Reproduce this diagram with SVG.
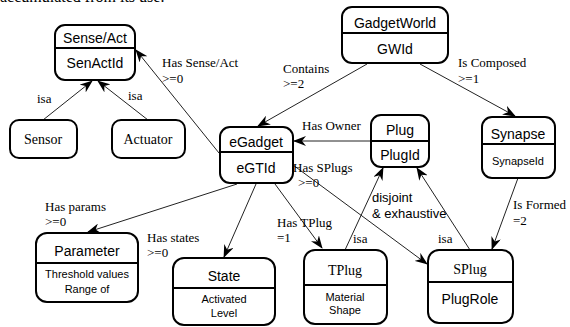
<svg xmlns="http://www.w3.org/2000/svg" width="570" height="327" viewBox="0 0 570 327">
<style>
.box{fill:#fff;stroke:#000;stroke-width:2}
.div{stroke:#000;stroke-width:2}
.t{font-family:"Liberation Sans",Arial,sans-serif;font-size:14px;text-anchor:middle;fill:#000}
.ts{font-family:"Liberation Serif","Times New Roman",serif;font-size:14px;text-anchor:middle;fill:#000}
.sm{font-family:"Liberation Sans",Arial,sans-serif;font-size:11px;text-anchor:middle;fill:#000}
.lb{font-family:"Liberation Serif","Times New Roman",serif;font-size:13px;fill:#000}
.ls{font-family:"Liberation Sans",Arial,sans-serif;font-size:13px;fill:#000}
.c{stroke:#222;stroke-width:1;fill:none;marker-end:url(#arr)}
</style>
<defs>
<marker id="arr" viewBox="0 0 13 10" refX="12" refY="5" markerWidth="13" markerHeight="10" orient="auto" markerUnits="userSpaceOnUse">
<path d="M0,0 L13,5 L0,10 L4,5 z" fill="#000"/>
</marker>
</defs>
<rect width="570" height="327" fill="#fff"/>
<text x="0" y="1.5" font-family="Liberation Serif, serif" font-size="16" fill="#000">accumulated from its use.</text>

<g id="connectors">
<line class="c" x1="43" y1="120" x2="92" y2="81"/>
<line class="c" x1="148" y1="120" x2="98" y2="81"/>
<line class="c" x1="219" y1="153" x2="136" y2="50"/>
<line class="c" x1="367" y1="64" x2="258" y2="126"/>
<line class="c" x1="420" y1="64" x2="515" y2="116"/>
<line class="c" x1="371" y1="141" x2="294" y2="141"/>
<line class="c" x1="289" y1="162" x2="427" y2="264"/>
<line class="c" x1="237" y1="184" x2="88" y2="232"/>
<line class="c" x1="256" y1="184" x2="224" y2="257"/>
<line class="c" x1="275" y1="184" x2="322" y2="248"/>
<line class="c" x1="345" y1="250" x2="383" y2="168"/>
<line class="c" x1="470" y1="250" x2="417" y2="168"/>
<line class="c" x1="518" y1="178" x2="492" y2="249"/>
</g>

<g id="labels">
<text class="lb" x="37" y="103">isa</text>
<text class="lb" x="128" y="100">isa</text>
<text class="lb" x="162" y="67">Has Sense/Act</text>
<text class="lb" x="162" y="83">&gt;=0</text>
<text class="lb" x="283" y="73">Contains</text>
<text class="lb" x="283" y="88">&gt;=2</text>
<text class="lb" x="458" y="67">Is Composed</text>
<text class="lb" x="458" y="83">&gt;=1</text>
<text class="lb" x="302" y="130">Has Owner</text>
<text class="lb" x="293" y="172">Has SPlugs</text>
<text class="lb" x="298" y="187">&gt;=0</text>
<text class="ls" x="372" y="202">disjoint</text>
<text class="ls" x="372" y="218">&amp; exhaustive</text>
<text class="lb" x="513" y="209">Is Formed</text>
<text class="lb" x="513" y="225">=2</text>
<text class="lb" x="277" y="227">Has TPlug</text>
<text class="lb" x="277" y="242">=1</text>
<text class="lb" x="353" y="243">isa</text>
<text class="lb" x="438" y="243">isa</text>
<text class="lb" x="45" y="211">Has params</text>
<text class="lb" x="45" y="226">&gt;=0</text>
<text class="lb" x="147" y="242">Has states</text>
<text class="lb" x="147" y="257">&gt;=0</text>
</g>

<g id="senseact">
<rect class="box" x="55" y="25" width="80" height="55" rx="10"/>
<line class="div" x1="55" y1="48" x2="135" y2="48"/>
<text class="t" x="95" y="43">Sense/Act</text>
<text class="t" x="95" y="68">SenActId</text>
</g>
<g id="gadgetworld">
<rect class="box" x="342" y="7" width="106" height="56" rx="10"/>
<line class="div" x1="342" y1="33" x2="448" y2="33"/>
<text class="t" x="395" y="28">GadgetWorld</text>
<text class="t" x="395" y="54">GWId</text>
</g>
<g id="sensor">
<rect class="box" x="10" y="120" width="67" height="38" rx="9"/>
<text class="ts" x="43" y="144">Sensor</text>
</g>
<g id="actuator">
<rect class="box" x="112" y="120" width="73" height="38" rx="9"/>
<text class="ts" x="148" y="144">Actuator</text>
</g>
<g id="egadget">
<rect class="box" x="220" y="127" width="73" height="56" rx="10"/>
<line class="div" x1="220" y1="152" x2="293" y2="152"/>
<text class="t" x="256" y="147">eGadget</text>
<text class="t" x="256" y="173">eGTId</text>
</g>
<g id="plug">
<rect class="box" x="371" y="115" width="58" height="52" rx="10"/>
<line class="div" x1="371" y1="141" x2="429" y2="141"/>
<text class="t" x="400" y="135">Plug</text>
<text class="t" x="400" y="160">PlugId</text>
</g>
<g id="synapse">
<rect class="box" x="482" y="117" width="73" height="61" rx="10"/>
<line class="div" x1="482" y1="144" x2="555" y2="144"/>
<text class="t" x="518" y="139">Synapse</text>
<text class="sm" x="518" y="165">SynapseId</text>
</g>
<g id="parameter">
<rect class="box" x="36" y="233" width="102" height="69" rx="11"/>
<line class="div" x1="36" y1="263" x2="138" y2="263"/>
<text class="t" x="87" y="256">Parameter</text>
<text class="sm" x="87" y="278">Threshold values</text>
<text class="sm" x="87" y="293">Range of</text>
</g>
<g id="state">
<rect class="box" x="173" y="258" width="102" height="67" rx="11"/>
<line class="div" x1="173" y1="288" x2="275" y2="288"/>
<text class="t" x="224" y="281">State</text>
<text class="sm" x="224" y="303">Activated</text>
<text class="sm" x="224" y="317">Level</text>
</g>
<g id="tplug">
<rect class="box" x="304" y="250" width="83" height="74" rx="11"/>
<line class="div" x1="304" y1="285" x2="387" y2="285"/>
<text class="ts" x="345" y="275">TPlug</text>
<text class="sm" x="345" y="301">Material</text>
<text class="sm" x="345" y="314">Shape</text>
</g>
<g id="splug">
<rect class="box" x="428" y="250" width="85" height="73" rx="11"/>
<line class="div" x1="428" y1="282" x2="513" y2="282"/>
<text class="ts" x="470" y="274">SPlug</text>
<text class="t" x="470" y="304">PlugRole</text>
</g>
</svg>
